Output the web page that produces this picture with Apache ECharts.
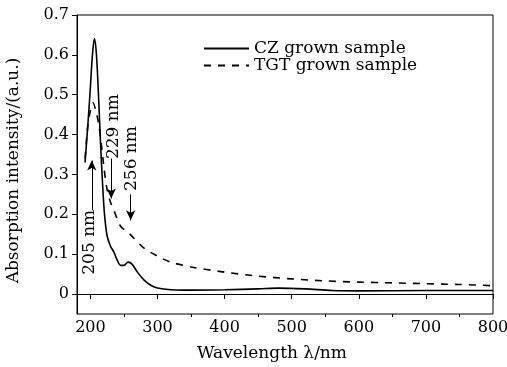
<!DOCTYPE html>
<html><head><meta charset="utf-8">
<script src="https://cdn.jsdelivr.net/npm/echarts@6/dist/echarts.min.js"></script>
<style>html,body{margin:0;padding:0;background:#fff}#c{width:507px;height:367px}</style>
</head><body><div id="c"></div>
<script>
// Wavelength (nm) and absorption intensity (a.u.)
const czWavelength = [192,196,200,203,206,209,212,215,218,221,225,230,235,240,245,250,256,262,270,280,290,300,320,350,400,450,480,520,560,600,700,800];
const czValues     = [0.33,0.42,0.52,0.60,0.64,0.60,0.50,0.38,0.28,0.20,0.145,0.12,0.105,0.085,0.072,0.072,0.08,0.075,0.055,0.035,0.022,0.015,0.011,0.010,0.011,0.013,0.015,0.013,0.009,0.008,0.009,0.009];
const tgtWavelength = [192,196,200,204,208,212,216,220,224,229,235,245,256,265,280,300,320,350,400,450,500,550,600,650,700,750,800];
const tgtValues     = [0.34,0.42,0.46,0.48,0.46,0.43,0.38,0.32,0.27,0.235,0.21,0.17,0.155,0.14,0.115,0.095,0.08,0.068,0.055,0.045,0.038,0.033,0.030,0.028,0.026,0.024,0.021];
const seriesNames = ['CZ grown sample','TGT grown sample'];
const xTicks = [200,300,400,500,600,700,800];
const xMinorTicks = [250,350,450,550,650,750];
const yTicks = [0,0.1,0.2,0.3,0.4,0.5,0.6,0.7];
// Annotations: label, label position [nm, a.u.], arrow start, arrow end
const annLabels = ['205 nm','229 nm','256 nm'];
const annLabelPos = [[199,0.13],[234,0.42],[262,0.34]];
const annArrowFrom = [[202,0.21],[231,0.34],[260,0.25]];
const annArrowTo = [[202,0.335],[231,0.24],[260,0.185]];

const font = 'DejaVu Serif';
const chart = echarts.init(document.getElementById('c'));
const zip = (a,b) => a.map((v,i)=>[v,b[i]]);
chart.setOption({
  animation:false,
  textStyle:{fontFamily:font,color:'#000'},
  grid:{left:77,top:15,right:14,bottom:53,containLabel:false,outerBoundsMode:'none',
    show:true,borderColor:'#000',borderWidth:1,backgroundColor:'transparent'},
  legend:{
    orient:'vertical',left:203,top:40,itemWidth:45,itemHeight:14,itemGap:0,padding:0,
    itemStyle:{opacity:0},
    textStyle:{fontFamily:font,fontSize:17,color:'#000'},
    data:seriesNames
  },
  xAxis:[{
    type:'value',min:180,max:800,
    axisLine:{show:true,lineStyle:{color:'#000',width:1}},
    axisTick:{show:true,customValues:xTicks,length:5,lineStyle:{color:'#000'}},
    axisLabel:{customValues:xTicks,fontFamily:font,fontSize:16,color:'#000',margin:6},
    splitLine:{show:false},
    name:'Wavelength \u03bb/nm',nameLocation:'middle',nameGap:31,
    nameTextStyle:{fontFamily:font,fontSize:17,color:'#000',padding:[0,26,0,0]}
  },{
    type:'value',min:180,max:800,position:'bottom',
    axisLine:{show:false},
    axisTick:{show:true,customValues:xMinorTicks,length:3,lineStyle:{color:'#000'}},
    axisLabel:{show:false},splitLine:{show:false}
  }],
  yAxis:{
    type:'value',min:-0.05,max:0.7,
    axisLine:{show:true,lineStyle:{color:'#000',width:1}},
    axisTick:{show:true,customValues:yTicks,length:5,lineStyle:{color:'#000'}},
    axisLabel:{customValues:yTicks,fontFamily:font,fontSize:16,color:'#000',margin:8,
      formatter:v=>(Math.abs(v)<1e-9?'0':v.toFixed(1))},
    splitLine:{show:false},
    name:'Absorption intensity/(a.u.)',nameLocation:'middle',nameGap:55,
    nameTextStyle:{fontFamily:font,fontSize:17,color:'#000',padding:[0,12,0,0]}
  },
  series:[{
    name:seriesNames[0],type:'line',smooth:0.3,symbol:'none',data:zip(czWavelength,czValues),
    lineStyle:{color:'#000',width:1.6},itemStyle:{color:'#000'},
    markLine:{silent:true,symbol:['none','arrow'],symbolSize:[7,10],
      lineStyle:{color:'#000',width:1,type:'solid'},label:{show:false},
      data:annArrowFrom.map((f,i)=>[{coord:f},{coord:annArrowTo[i]}])},
    markPoint:{silent:true,symbol:'circle',symbolSize:0,
      data:annLabels.map((t,i)=>({coord:annLabelPos[i],value:t,
        label:{show:true,formatter:t,rotate:90,fontFamily:font,fontSize:17,color:'#000',position:'inside'}}))}
  },{
    name:seriesNames[1],type:'line',smooth:0.3,symbol:'none',data:zip(tgtWavelength,tgtValues),
    lineStyle:{color:'#000',width:1.6,type:[7,7]},itemStyle:{color:'#000'}
  }]
});
</script></body></html>
